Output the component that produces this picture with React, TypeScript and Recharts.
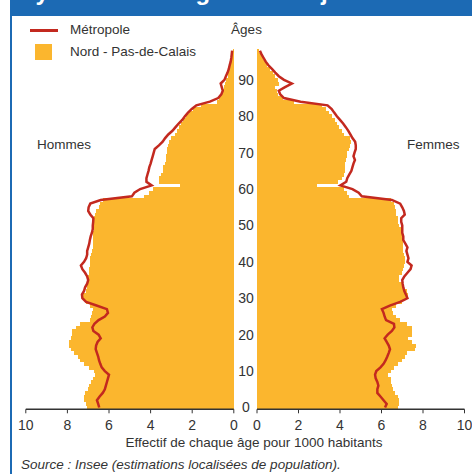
import React from 'react';
import { ComposedChart, Bar, Line, XAxis, YAxis } from 'recharts';

const ORANGE = '#FBB62E';
const RED = '#C3291F';
const BLUE = '#1C6AB4';
const INK = '#333333';
const FONT = '"Liberation Sans", Arial, Helvetica, sans-serif';

// ages 0..98, one bar per year
const ages = Array.from({ length: 99 }, (_, i) => i);

const maleNpdc = [
  7.05, 7.1, 7.2, 7.2, 7.15, 7.0, 6.95, 6.85, 6.75, 6.67,
  6.7, 6.96, 7.2, 7.4, 7.5, 7.7, 7.85, 7.92, 7.9, 7.85,
  7.8, 7.8, 7.6, 7.4, 6.9, 6.85, 6.8, 6.75, 6.9, 7.1,
  7.25, 7.25, 7.1, 7.05, 7.05, 7.0, 7.0, 6.95, 6.95, 6.9,
  6.9, 6.9, 6.85, 6.8, 6.75, 6.75, 6.75, 6.75, 6.75, 6.7,
  6.7, 6.7, 6.72, 6.68, 6.63, 6.5, 6.43, 6.3, 4.3, 4.08,
  3.9, 2.6, 3.62, 3.58, 3.5, 3.42, 3.38, 3.32, 3.28, 3.25,
  3.22, 3.2, 3.18, 3.1, 3.0, 2.85, 2.75, 2.65, 2.52, 2.42,
  2.3, 2.15, 1.95, 1.6, 0.82, 0.72, 0.62, 0.55, 0.48, 0.42,
  0.36, 0.3, 0.26, 0.22, 0.18, 0.14, 0.11, 0.08, 0.06,
];

const maleMetro = [
  6.47, 6.52, 6.58, 6.45, 6.3, 6.2, 6.15, 6.1, 6.05, 6.0,
  6.2, 6.35, 6.42, 6.48, 6.52, 6.58, 6.64, 6.62, 6.55, 6.4,
  6.5, 6.75, 6.8, 6.7, 6.5, 6.2, 6.05, 6.1, 6.6, 7.1,
  7.28, 7.3, 7.2, 7.15, 7.05, 7.0, 7.05, 7.15, 7.28, 7.35,
  7.2, 7.1, 7.05, 7.05, 7.0, 6.95, 6.92, 6.88, 6.82, 6.78,
  6.78, 6.76, 6.75, 6.9, 7.0, 6.98, 6.9, 6.4, 4.9, 4.78,
  4.5, 3.95, 4.2, 4.2, 4.15, 4.1, 4.06, 4.0, 3.95, 3.9,
  3.85, 3.8, 3.6, 3.42, 3.3, 3.15, 2.95, 2.8, 2.65, 2.48,
  2.35, 2.2, 2.02, 1.8, 1.15, 0.75, 0.6, 0.53, 0.58, 0.63,
  0.45, 0.38, 0.3, 0.24, 0.2, 0.15, 0.12, 0.1, 0.08,
];

const femaleNpdc = [
  6.8, 6.85, 6.85, 6.78, 6.65, 6.55, 6.5, 6.48, 6.45, 6.33,
  6.45, 6.62, 6.8, 7.0, 7.15, 7.25, 7.6, 7.65, 7.45, 7.3,
  7.45, 7.48, 7.45, 7.25, 6.9, 6.7, 6.55, 6.5, 6.7, 6.97,
  7.2, 7.3, 7.25, 7.1, 7.0, 6.82, 6.85, 6.97, 7.05, 7.1,
  7.13, 7.12, 7.08, 7.05, 7.05, 7.05, 7.05, 7.0, 6.97, 6.95,
  6.85, 6.8, 6.78, 6.72, 6.7, 6.65, 6.6, 6.45, 4.45, 4.35,
  4.2, 2.88, 3.9, 4.1, 4.2, 4.25, 4.25, 4.25, 4.28, 4.33,
  4.35, 4.42, 4.5, 4.52, 4.48, 4.2, 4.1, 3.95, 3.85, 3.75,
  3.6, 3.45, 3.32, 3.15, 1.8, 1.25, 1.0, 0.95, 0.85, 1.05,
  1.0, 0.85, 0.75, 0.65, 0.5, 0.4, 0.3, 0.2, 0.12,
];

const femaleMetro = [
  6.17, 6.25, 6.1, 5.95, 5.8, 5.8, 5.85, 5.8, 5.72, 5.69,
  5.75, 5.95, 6.1, 6.2, 6.28, 6.35, 6.41, 6.35, 6.25, 6.15,
  6.3, 6.5, 6.62, 6.6, 6.22, 6.15, 6.1, 6.02, 6.4, 6.9,
  7.25, 7.18, 7.1, 7.05, 7.02, 7.0, 7.1, 7.25, 7.4, 7.45,
  7.25, 7.3, 7.25, 7.2, 7.25, 7.15, 7.05, 7.05, 7.0, 7.0,
  7.0, 6.95, 6.95, 7.12, 7.08, 7.0, 6.9, 6.5, 5.05, 4.9,
  4.6, 4.02, 4.3, 4.35, 4.45, 4.55, 4.6, 4.65, 4.72, 4.65,
  4.7, 4.76, 4.76, 4.73, 4.6, 4.5, 4.4, 4.28, 4.15, 4.0,
  3.85, 3.72, 3.6, 3.4, 2.1, 1.3, 1.12, 1.05, 1.35, 1.68,
  1.3, 1.05, 0.88, 0.72, 0.55, 0.42, 0.32, 0.22, 0.14,
];

const valueTicks = [0, 2, 4, 6, 8, 10];
const ageTicks = [0, 10, 20, 30, 40, 50, 60, 70, 80, 90];

const maleData = ages.map((age, i) => ({ age, npdc: maleNpdc[i], metro: maleMetro[i] }));
const femaleData = ages.map((age, i) => ({ age, npdc: femaleNpdc[i], metro: femaleMetro[i] }));

const tickStyle = { fontSize: 14, fill: INK, fontFamily: FONT };

const abs = (extra: React.CSSProperties): React.CSSProperties => ({
  position: 'absolute',
  fontFamily: FONT,
  color: INK,
  whiteSpace: 'nowrap',
  ...extra,
});

export default function App() {
  return (
    <div style={{ position: 'absolute', left: 0, top: 0, width: 472, height: 474, background: '#fff', overflow: 'hidden' }}>
      {/* blue frame, title mostly above the visible area */}
      <div style={abs({ left: 9.5, top: 0, width: 463, height: 15.5, background: BLUE, overflow: 'hidden' })}>
        <div style={abs({ left: 10, top: -22, fontSize: 24, lineHeight: '28px', fontWeight: 'bold', color: '#fff' })}>
          Pyramide des âges au 1er janvier 2006
        </div>
      </div>
      <div style={abs({ left: 10, top: 0, width: 2.2, height: 474, background: BLUE })} />

      {/* hommes */}
      <div style={{ position: 'absolute', left: 0, top: 0 }}>
        <ComposedChart
          width={240}
          height={474}
          data={maleData}
          layout="vertical"
          margin={{ top: 48.9, right: 6.2, bottom: 34.7, left: 25.8 }}
          barCategoryGap={0}
          barGap={0}
        >
          <XAxis
            type="number"
            domain={[0, 10]}
            ticks={valueTicks}
            interval={0}
            reversed
            height={30}
            tickSize={4}
            tickMargin={7}
            axisLine={{ stroke: INK, strokeWidth: 1.5 }}
            tickLine={{ stroke: INK }}
            tick={tickStyle}
          />
          <YAxis type="category" dataKey="age" reversed hide />
          <Bar dataKey="npdc" fill={ORANGE} shapeRendering="crispEdges" isAnimationActive={false} />
          <Line dataKey="metro" type="linear" stroke={RED} strokeWidth={2.5} dot={false} isAnimationActive={false} />
        </ComposedChart>
      </div>

      {/* femmes */}
      <div style={{ position: 'absolute', left: 232, top: 0 }}>
        <ComposedChart
          width={240}
          height={474}
          data={femaleData}
          layout="vertical"
          margin={{ top: 48.9, right: 7.5, bottom: 34.7, left: 0 }}
          barCategoryGap={0}
          barGap={0}
        >
          <XAxis
            type="number"
            domain={[0, 10]}
            ticks={valueTicks}
            interval={0}
            height={30}
            tickSize={4}
            tickMargin={7}
            axisLine={{ stroke: INK, strokeWidth: 1.5 }}
            tickLine={{ stroke: INK }}
            tick={tickStyle}
          />
          <YAxis
            type="category"
            dataKey="age"
            reversed
            width={25}
            ticks={ageTicks}
            interval={0}
            axisLine={false}
            tickLine={false}
            tickSize={0}
            tickMargin={11}
            tick={{ ...tickStyle, textAnchor: 'middle' }}
          />
          <Bar dataKey="npdc" fill={ORANGE} shapeRendering="crispEdges" isAnimationActive={false} />
          <Line dataKey="metro" type="linear" stroke={RED} strokeWidth={2.5} dot={false} isAnimationActive={false} />
        </ComposedChart>
      </div>

      {/* legend */}
      <div style={abs({ left: 30, top: 29, width: 28, height: 3, background: RED })} />
      <div style={abs({ left: 70, top: 22, fontSize: 13.5, lineHeight: '16px' })}>Métropole</div>
      <div style={abs({ left: 35, top: 44, width: 17, height: 16, background: ORANGE })} />
      <div style={abs({ left: 70, top: 44, fontSize: 13.5, lineHeight: '16px' })}>Nord - Pas-de-Calais</div>

      <div style={abs({ left: 231, top: 22, width: 31, textAlign: 'center', fontSize: 13.5, lineHeight: '16px' })}>Âges</div>
      <div style={abs({ left: 37, top: 137, fontSize: 13.5, lineHeight: '16px' })}>Hommes</div>
      <div style={abs({ left: 407, top: 137, fontSize: 13.5, lineHeight: '16px' })}>Femmes</div>

      <div style={abs({ left: 0, top: 435, width: 508, textAlign: 'center', fontSize: 13.5, lineHeight: '16px' })}>
        Effectif de chaque âge pour 1000 habitants
      </div>
      <div style={abs({ left: 21, top: 457, fontSize: 13.5, lineHeight: '16px', fontStyle: 'italic' })}>
        Source : Insee (estimations localisées de population).
      </div>
    </div>
  );
}
